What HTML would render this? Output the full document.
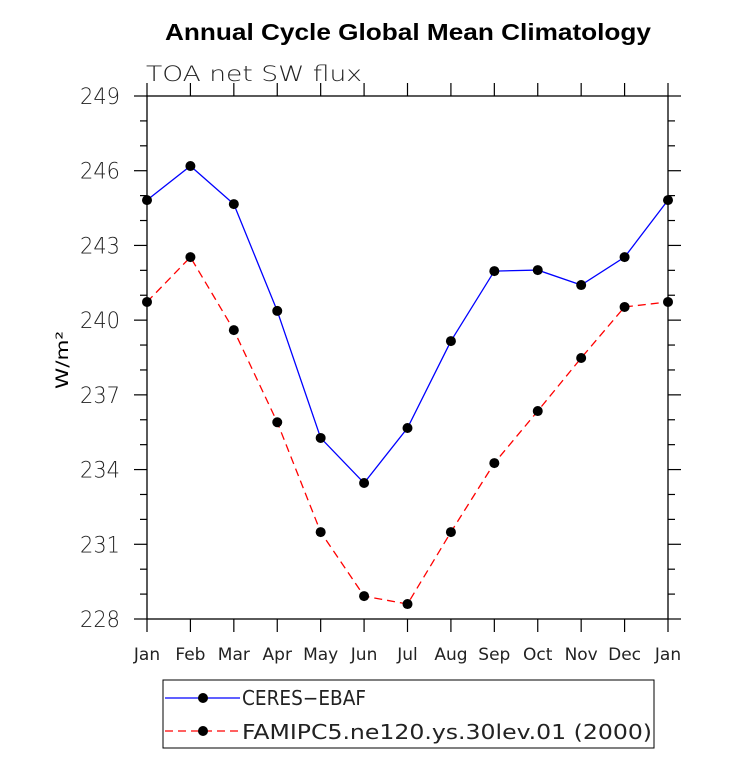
<!DOCTYPE html>
<html><head><meta charset="utf-8"><style>
body{margin:0;background:#fff;}
svg text{font-family:"DejaVu Sans","Liberation Sans",sans-serif;}
</style></head><body>
<svg id="chart" width="733" height="770" xmlns="http://www.w3.org/2000/svg">
<text x="408" y="40" text-anchor="middle" font-size="23" font-weight="bold" style="font-family:'Liberation Sans',sans-serif" textLength="486" lengthAdjust="spacingAndGlyphs">Annual Cycle Global Mean Climatology</text>
<text x="146" y="81" font-size="21" fill="#222" font-weight="300" textLength="216" lengthAdjust="spacingAndGlyphs">TOA net SW flux</text>
<text transform="translate(68,360) rotate(-90)" text-anchor="middle" font-size="17" textLength="58" lengthAdjust="spacingAndGlyphs">W/m²</text>
<g id="axes"></g>
<g id="series"></g>
<g>
<rect x="163" y="680" width="491" height="68" fill="none" stroke="#000" stroke-width="1"/>
<line x1="165" y1="698" x2="240" y2="698" stroke="#0000ff" stroke-width="1.3"/>
<circle cx="203" cy="698" r="5"/>
<text x="242" y="705" font-size="20" fill="#222" textLength="124" lengthAdjust="spacingAndGlyphs">CERES−EBAF</text>
<line x1="165" y1="731" x2="240" y2="731" stroke="#ff0000" stroke-width="1.3" stroke-dasharray="8,5"/>
<circle cx="203" cy="731" r="5"/>
<text x="242" y="739" font-size="20" fill="#222" textLength="410" lengthAdjust="spacingAndGlyphs">FAMIPC5.ne120.ys.30lev.01 (2000)</text>
</g>
</svg>
<script>
const months=["Jan","Feb","Mar","Apr","May","Jun","Jul","Aug","Sep","Oct","Nov","Dec","Jan"];
const ceres=[244.82,246.19,244.66,240.37,235.27,233.46,235.67,239.16,241.97,242.01,241.41,242.53,244.82];
const famip=[240.73,242.53,239.6,235.9,231.49,228.92,228.6,231.49,234.26,236.35,238.48,240.53,240.73];
const yTicks=[228,231,234,237,240,243,246,249];
const X0=147,X1=668,Y0=619,Y1=96,YMIN=228,YMAX=249;
const xs=i=>X0+(X1-X0)*i/(months.length-1);
const ys=v=>Y0-(v-YMIN)/(YMAX-YMIN)*(Y0-Y1);
const NS="http://www.w3.org/2000/svg";
const ax=document.getElementById('axes'),se=document.getElementById('series');
function mk(tag,at,par){const e=document.createElementNS(NS,tag);for(const k in at)e.setAttribute(k,at[k]);par.appendChild(e);return e;}
const fr=mk('rect',{x:X0,y:Y1,width:X1-X0,height:Y0-Y1,fill:'none',stroke:'#000','stroke-width':1.3},ax);


for(let v=YMIN;v<=YMAX;v+=1){const y=ys(v);const major=(v-YMIN)%3===0;const L=major?13:7;
mk('line',{x1:X0-L,y1:y,x2:X0,y2:y,stroke:'#000','stroke-width':1.2},ax);
mk('line',{x1:X1,y1:y,x2:X1+L,y2:y,stroke:'#000','stroke-width':1.2},ax);}
yTicks.forEach(v=>{const t=mk('text',{x:X0-27,y:ys(v)+8,'text-anchor':'end','font-size':22,fill:'#222','font-weight':300,textLength:40,lengthAdjust:'spacingAndGlyphs'},ax);t.textContent=v;

});
months.forEach((m,i)=>{const x=xs(i);
mk('line',{x1:x,y1:Y0,x2:x,y2:Y0+13,stroke:'#000','stroke-width':1.2},ax);
mk('line',{x1:x,y1:Y1-13,x2:x,y2:Y1,stroke:'#000','stroke-width':1.2},ax);
const t=mk('text',{x:x,y:660,'text-anchor':'middle','font-size':17,fill:'#222'},ax);t.textContent=m;

});
function draw(data,color,dash,name){
const p=mk('polyline',{points:data.map((v,i)=>xs(i)+','+ys(v)).join(' '),fill:'none',stroke:color,'stroke-width':1.3},se);
if(dash)p.setAttribute('stroke-dasharray',dash);


data.forEach((v,i)=>{const c=mk('circle',{cx:xs(i),cy:ys(v),r:5,fill:'#000'},se);

});}
draw(ceres,'#0000ff',null,'ceres');
draw(famip,'#ff0000','8,5','famip');
</script>
</body></html>
